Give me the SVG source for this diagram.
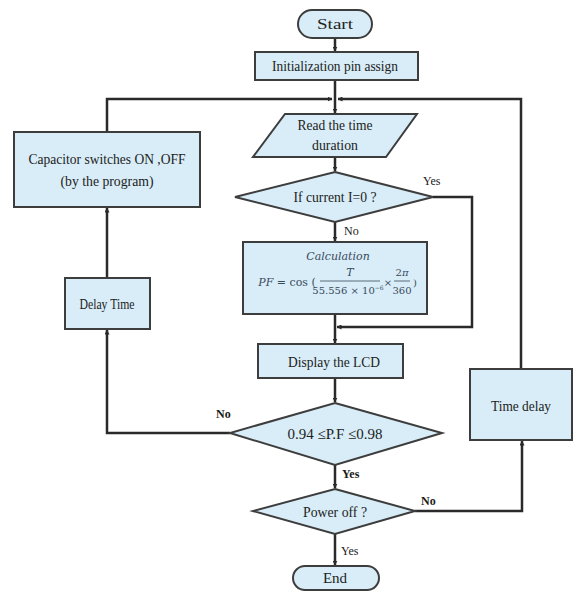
<svg xmlns="http://www.w3.org/2000/svg" width="573" height="592" viewBox="0 0 573 592">
<style>
.shape{fill:#d8edf7;stroke:#3d3d3d;stroke-width:2}
.t{font-family:"Liberation Serif","Times New Roman",serif;font-size:15px;fill:#222;text-anchor:middle}
.lbl{font-family:"Liberation Serif","Times New Roman",serif;font-size:12px;fill:#1a1a1a}
.b{font-weight:bold}
.c{fill:none;stroke:#2a2a2a;stroke-width:2.5}
.m{font-family:"Cambria Math","DejaVu Serif","Liberation Serif",serif;font-size:11px;fill:#3a4a5e;text-anchor:middle;font-style:italic}
.mu{font-family:"DejaVu Serif","Liberation Serif",serif;font-size:10px;fill:#3a4a5e;text-anchor:middle}
</style>
<defs>
<marker id="ah" viewBox="0 0 10 10" refX="9" refY="5" markerWidth="5" markerHeight="5" orient="auto" markerUnits="userSpaceOnUse">
<path d="M0,0 L10,5 L0,10 z" fill="#2a2a2a"/>
</marker>
</defs>
<g id="connectors">
<line class="c" x1="335" y1="38" x2="335" y2="51" marker-end="url(#ah)"/>
<line class="c" x1="335" y1="80" x2="335" y2="113" marker-end="url(#ah)"/>
<polyline class="c" points="107,132 107,99 332,99" marker-end="url(#ah)"/>
<polyline class="c" points="521,369 521,99 338,99" marker-end="url(#ah)"/>
<line class="c" x1="335" y1="157" x2="335" y2="171" marker-end="url(#ah)"/>
<line class="c" x1="335" y1="222" x2="335" y2="241" marker-end="url(#ah)"/>
<polyline class="c" points="433,197 472,197 472,327 337,327" marker-end="url(#ah)"/>
<line class="c" x1="335" y1="314" x2="335" y2="343" marker-end="url(#ah)"/>
<line class="c" x1="335" y1="378" x2="335" y2="402" marker-end="url(#ah)"/>
<line class="c" x1="335" y1="465" x2="335" y2="488" marker-end="url(#ah)"/>
<polyline class="c" points="230,433 107,433 107,330" marker-end="url(#ah)"/>
<line class="c" x1="107" y1="278" x2="107" y2="208" marker-end="url(#ah)"/>
<polyline class="c" points="415,511 522,511 522,441" marker-end="url(#ah)"/>
<line class="c" x1="335" y1="534" x2="335" y2="565" marker-end="url(#ah)"/>
<text class="lbl" x="423" y="185" font-size="13">Yes</text>
<text class="lbl" x="344" y="235" font-size="13">No</text>
<text class="lbl b" x="216" y="418" font-size="11">No</text>
<text class="lbl b" x="342" y="478" font-size="11">Yes</text>
<text class="lbl b" x="421" y="505" font-size="11">No</text>
<text class="lbl" x="341" y="555" font-size="14">Yes</text>
</g>
<g id="start">
<rect class="shape" x="298" y="10" width="74" height="28" rx="14"/>
<text class="t" x="335" y="29" textLength="36" lengthAdjust="spacingAndGlyphs">Start</text>
</g>
<g id="init">
<rect class="shape" x="255" y="52" width="163" height="28"/>
<text class="t" x="335" y="71" textLength="126" lengthAdjust="spacingAndGlyphs">Initialization pin assign</text>
</g>
<g id="read">
<polygon class="shape" points="285,114 417,114 386,157 253,157"/>
<text class="t" x="335" y="130" textLength="75" lengthAdjust="spacingAndGlyphs">Read the time</text>
<text class="t" x="335" y="150" textLength="46" lengthAdjust="spacingAndGlyphs">duration</text>
</g>
<g id="capacitor">
<rect class="shape" x="14" y="132" width="186" height="75"/>
<text class="t" x="107" y="164" textLength="157" lengthAdjust="spacingAndGlyphs">Capacitor switches ON ,OFF</text>
<text class="t" x="107" y="186" textLength="93" lengthAdjust="spacingAndGlyphs">(by the program)</text>
</g>
<g id="current">
<polygon class="shape" points="335,172 433,197 335,222 235,197"/>
<text class="t" x="335" y="202" textLength="83" lengthAdjust="spacingAndGlyphs">If current I=0 ?</text>
</g>
<g id="calc">
<rect class="shape" x="243" y="242" width="184" height="72"/>
<text class="m" x="338" y="260">Calculation</text>
<text class="m" x="287" y="286" font-size="10.5"><tspan>PF</tspan><tspan font-style="normal"> = cos (</tspan></text>
<text class="m" x="350" y="276">T</text>
<line x1="320" y1="281" x2="380" y2="281" stroke="#3a4a5e" stroke-width="0.8"/>
<text class="mu" x="348" y="294" font-size="8.5">55.556 × 10<tspan font-size="6" dy="-4">−6</tspan></text>
<text class="mu" x="388" y="286">×</text>
<text class="mu" x="402" y="276" font-size="9">2<tspan font-style="italic">π</tspan></text>
<line x1="394" y1="281" x2="410" y2="281" stroke="#3a4a5e" stroke-width="0.8"/>
<text class="mu" x="402" y="294" font-size="9">360</text>
<text class="mu" x="415" y="286">)</text>
</g>
<g id="lcd">
<rect class="shape" x="258" y="344" width="145" height="34"/>
<text class="t" x="334" y="367" textLength="92" lengthAdjust="spacingAndGlyphs">Display the LCD</text>
</g>
<g id="pf">
<polygon class="shape" points="335,403 442,433 335,465 230,433"/>
<text class="t" x="335" y="439" textLength="95" lengthAdjust="spacingAndGlyphs">0.94 ≤P.F ≤0.98</text>
</g>
<g id="delaytime">
<rect class="shape" x="65" y="278" width="85" height="51"/>
<text class="t" x="107" y="309" font-size="12" textLength="55" lengthAdjust="spacingAndGlyphs">Delay Time</text>
</g>
<g id="timedelay">
<rect class="shape" x="470" y="369" width="102" height="71"/>
<text class="t" x="521" y="411" textLength="60" lengthAdjust="spacingAndGlyphs">Time delay</text>
</g>
<g id="poweroff">
<polygon class="shape" points="335,489 415,511 335,534 253,511"/>
<text class="t" x="335" y="517" textLength="64" lengthAdjust="spacingAndGlyphs">Power off ?</text>
</g>
<g id="end">
<rect class="shape" x="293" y="566" width="86" height="24" rx="12"/>
<text class="t" x="335" y="583">End</text>
</g>
</svg>
